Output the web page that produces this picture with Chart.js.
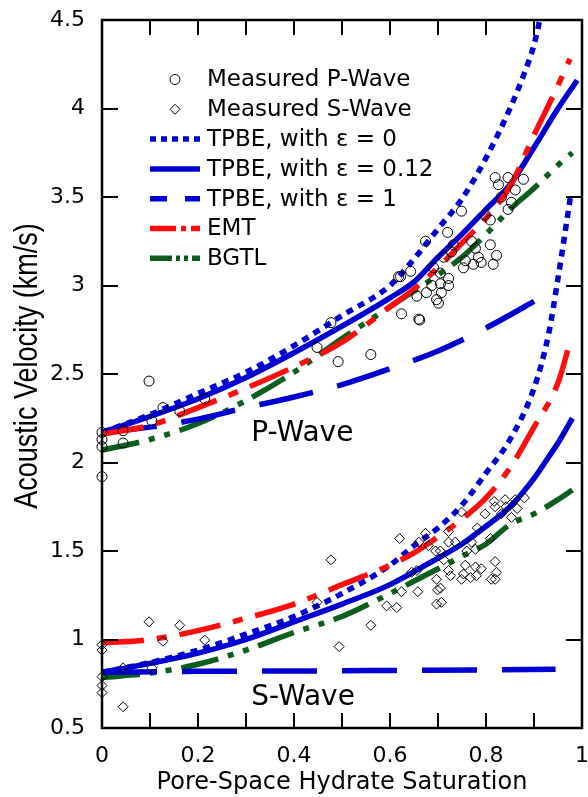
<!DOCTYPE html>
<html>
<head>
<meta charset="utf-8">
<script src="https://cdn.jsdelivr.net/npm/chart.js@4.4.1/dist/chart.umd.min.js"></script>
<style>
  html, body { margin: 0; padding: 0; background: #fff; }
  canvas { display: block; }
</style>
</head>
<body>
<canvas id="grafico" width="588" height="797"></canvas>
<script>
// --- Dados ---
// Eixos
const xTickMarks = [0.1, 0.2, 0.3, 0.4, 0.5, 0.6, 0.7, 0.8, 0.9];
const yTickMarks = [1, 1.5, 2, 2.5, 3, 3.5, 4];
const tituloX = 'Pore-Space Hydrate Saturation';
const tituloY = 'Acoustic Velocity (km/s)';

// Medições (saturação, velocidade km/s)
const pMedido = [
  [0, 2.17], [0, 2.13], [0, 2.09], [0, 1.92], [0.044, 2.18], [0.044, 2.11],
  [0.098, 2.46], [0.104, 2.235], [0.127, 2.31], [0.162, 2.29], [0.214, 2.36],
  [0.448, 2.65], [0.477, 2.79], [0.492, 2.57], [0.56, 2.61], [0.618, 3.05],
  [0.622, 3.05], [0.624, 2.84], [0.643, 3.08], [0.656, 2.94], [0.66, 2.81],
  [0.662, 2.805], [0.674, 3.25], [0.676, 2.96], [0.687, 3.0], [0.691, 3.1],
  [0.697, 2.92], [0.701, 2.9], [0.705, 3.07], [0.705, 3.01], [0.707, 2.96],
  [0.712, 3.16], [0.72, 3.3], [0.722, 3.04], [0.722, 3.0], [0.728, 3.19],
  [0.732, 3.23], [0.749, 3.42], [0.753, 3.1], [0.757, 3.14], [0.77, 3.25],
  [0.774, 3.12], [0.778, 3.21], [0.784, 3.16], [0.79, 3.13], [0.798, 3.4],
  [0.809, 3.37], [0.809, 3.23], [0.815, 3.12], [0.819, 3.61], [0.822, 3.17],
  [0.826, 3.57], [0.832, 3.5], [0.846, 3.61], [0.846, 3.43], [0.853, 3.47],
  [0.861, 3.54], [0.878, 3.6]
];
const sMedido = [
  [0, 0.97], [0, 0.94], [0, 0.79], [0, 0.74], [0, 0.7], [0.044, 0.84],
  [0.044, 0.62], [0.098, 1.1], [0.104, 0.84], [0.127, 0.99], [0.162, 1.08],
  [0.214, 0.997], [0.448, 1.21], [0.477, 1.45], [0.494, 0.96], [0.56, 1.08],
  [0.593, 1.19], [0.614, 1.18], [0.62, 1.57], [0.624, 1.27], [0.645, 1.38],
  [0.656, 1.39], [0.658, 1.27], [0.66, 1.55], [0.674, 1.6], [0.68, 1.53],
  [0.695, 1.5], [0.697, 1.34], [0.697, 1.2], [0.699, 1.28], [0.705, 1.5],
  [0.705, 1.29], [0.707, 1.21], [0.712, 1.45], [0.722, 1.61], [0.722, 1.55],
  [0.722, 1.39], [0.726, 1.36], [0.736, 1.55], [0.749, 1.72], [0.749, 1.34],
  [0.753, 1.37], [0.757, 1.42], [0.76, 1.5], [0.768, 1.35], [0.77, 1.55],
  [0.778, 1.51], [0.778, 1.41], [0.78, 1.36], [0.782, 1.63], [0.79, 1.4],
  [0.798, 1.71], [0.809, 1.57], [0.811, 1.34], [0.817, 1.78], [0.819, 1.75],
  [0.819, 1.44], [0.819, 1.34], [0.822, 1.38], [0.832, 1.71], [0.84, 1.79],
  [0.842, 1.75], [0.853, 1.69], [0.861, 1.79], [0.865, 1.74], [0.88, 1.8]
];

// Curvas das ondas P
const pTpbe0 = [
  [0, 2.17], [0.1, 2.27], [0.2, 2.39], [0.3, 2.51], [0.4, 2.66], [0.5, 2.83],
  [0.6, 3.0], [0.65, 3.15], [0.7, 3.32], [0.75, 3.49], [0.8, 3.72], [0.85, 4.0],
  [0.88, 4.2], [0.9, 4.36], [0.92, 4.6]
];
const pTpbe012 = [
  [0, 2.17], [0.1, 2.26], [0.2, 2.36], [0.3, 2.48], [0.4, 2.62], [0.5, 2.77],
  [0.6, 2.93], [0.65, 3.02], [0.7, 3.16], [0.75, 3.29], [0.8, 3.43], [0.85, 3.57],
  [0.9, 3.78], [0.95, 4.0], [0.99, 4.16]
];
const pTpbe1 = [
  [0, 2.17], [0.1, 2.2], [0.2, 2.245], [0.3, 2.31], [0.4, 2.37], [0.5, 2.44],
  [0.6, 2.53], [0.7, 2.63], [0.8, 2.76], [0.9, 2.91], [0.945, 2.98]
];
const pEmt = [
  [0, 2.16], [0.1, 2.21], [0.2, 2.31], [0.3, 2.42], [0.4, 2.54], [0.5, 2.68],
  [0.6, 2.88], [0.65, 2.98], [0.7, 3.1], [0.75, 3.24], [0.8, 3.38], [0.85, 3.56],
  [0.9, 3.85], [0.95, 4.13], [0.975, 4.28]
];
const pBgtl = [
  [0, 2.07], [0.1, 2.13], [0.2, 2.22], [0.3, 2.35], [0.4, 2.51], [0.5, 2.7],
  [0.6, 2.88], [0.7, 3.06], [0.75, 3.16], [0.8, 3.29], [0.85, 3.43], [0.9, 3.55],
  [0.95, 3.68], [0.98, 3.75]
];

// Curvas das ondas S
const sTpbe0 = [
  [0, 0.815], [0.1, 0.87], [0.2, 0.94], [0.3, 1.03], [0.4, 1.13], [0.5, 1.26],
  [0.6, 1.42], [0.65, 1.53], [0.7, 1.63], [0.75, 1.76], [0.8, 1.94], [0.85, 2.13],
  [0.9, 2.42], [0.93, 2.72], [0.95, 3.04], [0.977, 3.52]
];
const sTpbe012 = [
  [0, 0.815], [0.1, 0.865], [0.2, 0.923], [0.3, 1.0], [0.4, 1.1], [0.5, 1.2],
  [0.6, 1.31], [0.7, 1.46], [0.75, 1.54], [0.8, 1.64], [0.85, 1.75], [0.9, 1.91],
  [0.93, 2.03], [0.95, 2.11], [0.98, 2.25]
];
const sTpbe1 = [
  [0, 0.815], [0.2, 0.82], [0.4, 0.822], [0.6, 0.825], [0.8, 0.828], [0.945, 0.832]
];
const sEmt = [
  [0, 0.98], [0.1, 1.0], [0.2, 1.05], [0.3, 1.12], [0.4, 1.2], [0.5, 1.31],
  [0.6, 1.42], [0.65, 1.49], [0.7, 1.58], [0.75, 1.68], [0.8, 1.8], [0.85, 1.97],
  [0.9, 2.2], [0.95, 2.45], [0.975, 2.68]
];
const sBgtl = [
  [0, 0.785], [0.1, 0.81], [0.2, 0.86], [0.3, 0.94], [0.4, 1.04], [0.5, 1.13],
  [0.6, 1.26], [0.7, 1.4], [0.75, 1.47], [0.8, 1.54], [0.85, 1.65], [0.9, 1.71],
  [0.95, 1.79], [0.98, 1.845]
];

// --- Estilos ---
const AZUL = '#0000d2';
const VERMELHO = '#ff0d0d';
const VERDE = '#0b5e1c';
const FONTE = "'DejaVu Sans', sans-serif";

const estilos = {
  tpbe0: { borderColor: AZUL, borderWidth: 5.5, borderDash: [7, 6] },
  tpbe012: { borderColor: AZUL, borderWidth: 5.5, borderDash: [] },
  tpbe1: { borderColor: AZUL, borderWidth: 5.5, borderDash: [55, 25] },
  emt: { borderColor: VERMELHO, borderWidth: 5.5, borderDash: [42, 13, 10, 13] },
  bgtl: { borderColor: VERDE, borderWidth: 5.5, borderDash: [38, 10, 6, 10, 6, 10] }
};

const paraPontos = arr => arr.map(([x, y]) => ({ x, y }));

function curva(dados, estilo) {
  return {
    data: paraPontos(dados),
    showLine: true,
    pointRadius: 0,
    pointHoverRadius: 0,
    borderCapStyle: 'butt',
    cubicInterpolationMode: 'monotone',
    fill: false,
    ...estilo
  };
}

function medidas(dados, forma) {
  return {
    data: paraPontos(dados),
    showLine: false,
    pointStyle: forma,
    pointRadius: 5,
    pointBorderColor: '#000',
    pointBackgroundColor: 'rgba(0,0,0,0)',
    pointBorderWidth: 1,
    clip: false
  };
}

// dataset 0 fica por cima
const datasets = [
  medidas(pMedido, 'circle'),
  medidas(sMedido, 'rectRot'),
  curva(pEmt, estilos.emt),
  curva(sEmt, estilos.emt),
  curva(pTpbe0, estilos.tpbe0),
  curva(sTpbe0, estilos.tpbe0),
  curva(pTpbe012, estilos.tpbe012),
  curva(sTpbe012, estilos.tpbe012),
  curva(pTpbe1, estilos.tpbe1),
  curva(sTpbe1, estilos.tpbe1),
  curva(pBgtl, estilos.bgtl),
  curva(sBgtl, estilos.bgtl)
];

// Legenda desenhada dentro da área do gráfico (tracejado da amostra ajustado ao tamanho curto)
const itensLegenda = [
  { texto: 'Measured P-Wave', marcador: 'circle' },
  { texto: 'Measured S-Wave', marcador: 'rectRot' },
  { texto: 'TPBE, with ε = 0', estilo: estilos.tpbe0, traco: [6, 5] },
  { texto: 'TPBE, with ε = 0.12', estilo: estilos.tpbe012, traco: [] },
  { texto: 'TPBE, with ε = 1', estilo: estilos.tpbe1, traco: [17, 18] },
  { texto: 'EMT', estilo: estilos.emt, traco: [26, 5, 5, 5] },
  { texto: 'BGTL', estilo: estilos.bgtl, traco: [22, 4, 4, 4, 4, 4] }
];

const rotulos = [
  { texto: 'P-Wave', x: 0.311, y: 2.12 },
  { texto: 'S-Wave', x: 0.311, y: 0.63 }
];

// --- Plugin: moldura, marcas internas, legenda, rótulos e título do eixo Y ---
const molduraPlugin = {
  id: 'moldura',
  afterDraw(chart) {
    const { ctx, chartArea: a, scales: { x, y } } = chart;
    ctx.save();

    // marcas para dentro nos quatro lados
    ctx.strokeStyle = '#000';
    ctx.lineWidth = 2;
    ctx.beginPath();
    xTickMarks.forEach(v => {
      const px = Math.round(x.getPixelForValue(v));
      ctx.moveTo(px, a.bottom); ctx.lineTo(px, a.bottom - 15);
      ctx.moveTo(px, a.top); ctx.lineTo(px, a.top + 15);
    });
    yTickMarks.forEach(v => {
      const py = Math.round(y.getPixelForValue(v));
      ctx.moveTo(a.left, py); ctx.lineTo(a.left + 16, py);
      ctx.moveTo(a.right, py); ctx.lineTo(a.right - 16, py);
    });
    ctx.stroke();

    ctx.lineWidth = 2.5;
    ctx.strokeRect(a.left, a.top, a.right - a.left, a.bottom - a.top);

    // legenda
    ctx.font = '23px ' + FONTE;
    ctx.textBaseline = 'middle';
    ctx.textAlign = 'left';
    itensLegenda.forEach((item, i) => {
      const cy = a.top + 59.5 + i * 29.8;
      const x0 = a.left + 48, x1 = a.left + 98;
      if (item.marcador) {
        ctx.lineWidth = 1;
        ctx.strokeStyle = '#000';
        ctx.setLineDash([]);
        ctx.beginPath();
        const cx = (x0 + x1) / 2;
        if (item.marcador === 'circle') {
          ctx.arc(cx, cy, 5, 0, Math.PI * 2);
        } else {
          ctx.moveTo(cx, cy - 5); ctx.lineTo(cx + 5, cy);
          ctx.lineTo(cx, cy + 5); ctx.lineTo(cx - 5, cy); ctx.closePath();
        }
        ctx.stroke();
      } else {
        const e = item.estilo;
        ctx.lineWidth = e.borderWidth;
        ctx.strokeStyle = e.borderColor;
        ctx.lineCap = 'butt';
        ctx.setLineDash(item.traco);
        ctx.beginPath();
        ctx.moveTo(x0, cy); ctx.lineTo(x1, cy);
        ctx.stroke();
        ctx.setLineDash([]);
      }
      ctx.fillStyle = '#000';
      ctx.fillText(item.texto, a.left + 105, cy + 1);
    });

    // rótulos P-Wave / S-Wave
    ctx.font = '28px ' + FONTE;
    ctx.textBaseline = 'alphabetic';
    rotulos.forEach(r => {
      ctx.fillText(r.texto, x.getPixelForValue(r.x), y.getPixelForValue(r.y));
    });

    // título do eixo Y em fonte estreita (condensada)
    ctx.save();
    ctx.translate(28, (a.top + a.bottom) / 2 - 8);
    ctx.rotate(-Math.PI / 2);
    ctx.scale(0.82, 1);
    ctx.font = "33px 'Liberation Sans', Arial, sans-serif";
    ctx.textAlign = 'center';
    ctx.textBaseline = 'middle';
    ctx.fillText(tituloY, 0, 0);
    ctx.restore();

    ctx.restore();
  }
};

const formatoNumero = v => String(Math.round(v * 10) / 10);

// --- Montagem do gráfico ---
new Chart(document.getElementById('grafico'), {
  type: 'scatter',
  data: { datasets },
  plugins: [molduraPlugin],
  options: {
    responsive: false,
    animation: false,
    events: [],
    layout: { padding: { left: 0, top: 20, right: 4, bottom: 0 } },
    plugins: {
      legend: { display: false },
      tooltip: { enabled: false }
    },
    scales: {
      x: {
        type: 'linear',
        min: 0,
        max: 1,
        grid: { display: false, drawTicks: false },
        border: { display: false },
        ticks: {
          stepSize: 0.2,
          padding: 15,
          color: '#000',
          maxRotation: 0,
          font: { family: FONTE, size: 22 },
          callback: formatoNumero
        },
        title: {
          display: true,
          text: tituloX,
          color: '#000',
          padding: { top: 0, bottom: 0 },
          font: { family: FONTE, size: 24 }
        },
        afterFit(scale) {
          scale.height = 69;
          scale.paddingLeft = 0;
          scale.paddingRight = 0;
        }
      },
      y: {
        type: 'linear',
        min: 0.5,
        max: 4.5,
        grid: { display: false, drawTicks: false },
        border: { display: false },
        ticks: {
          stepSize: 0.5,
          padding: 17,
          color: '#000',
          font: { family: FONTE, size: 22 },
          callback: formatoNumero
        },
        title: { display: false },
        afterFit(scale) {
          scale.width = 102;
          scale.paddingTop = 0;
          scale.paddingBottom = 0;
        }
      }
    }
  }
});
</script>
</body>
</html>
